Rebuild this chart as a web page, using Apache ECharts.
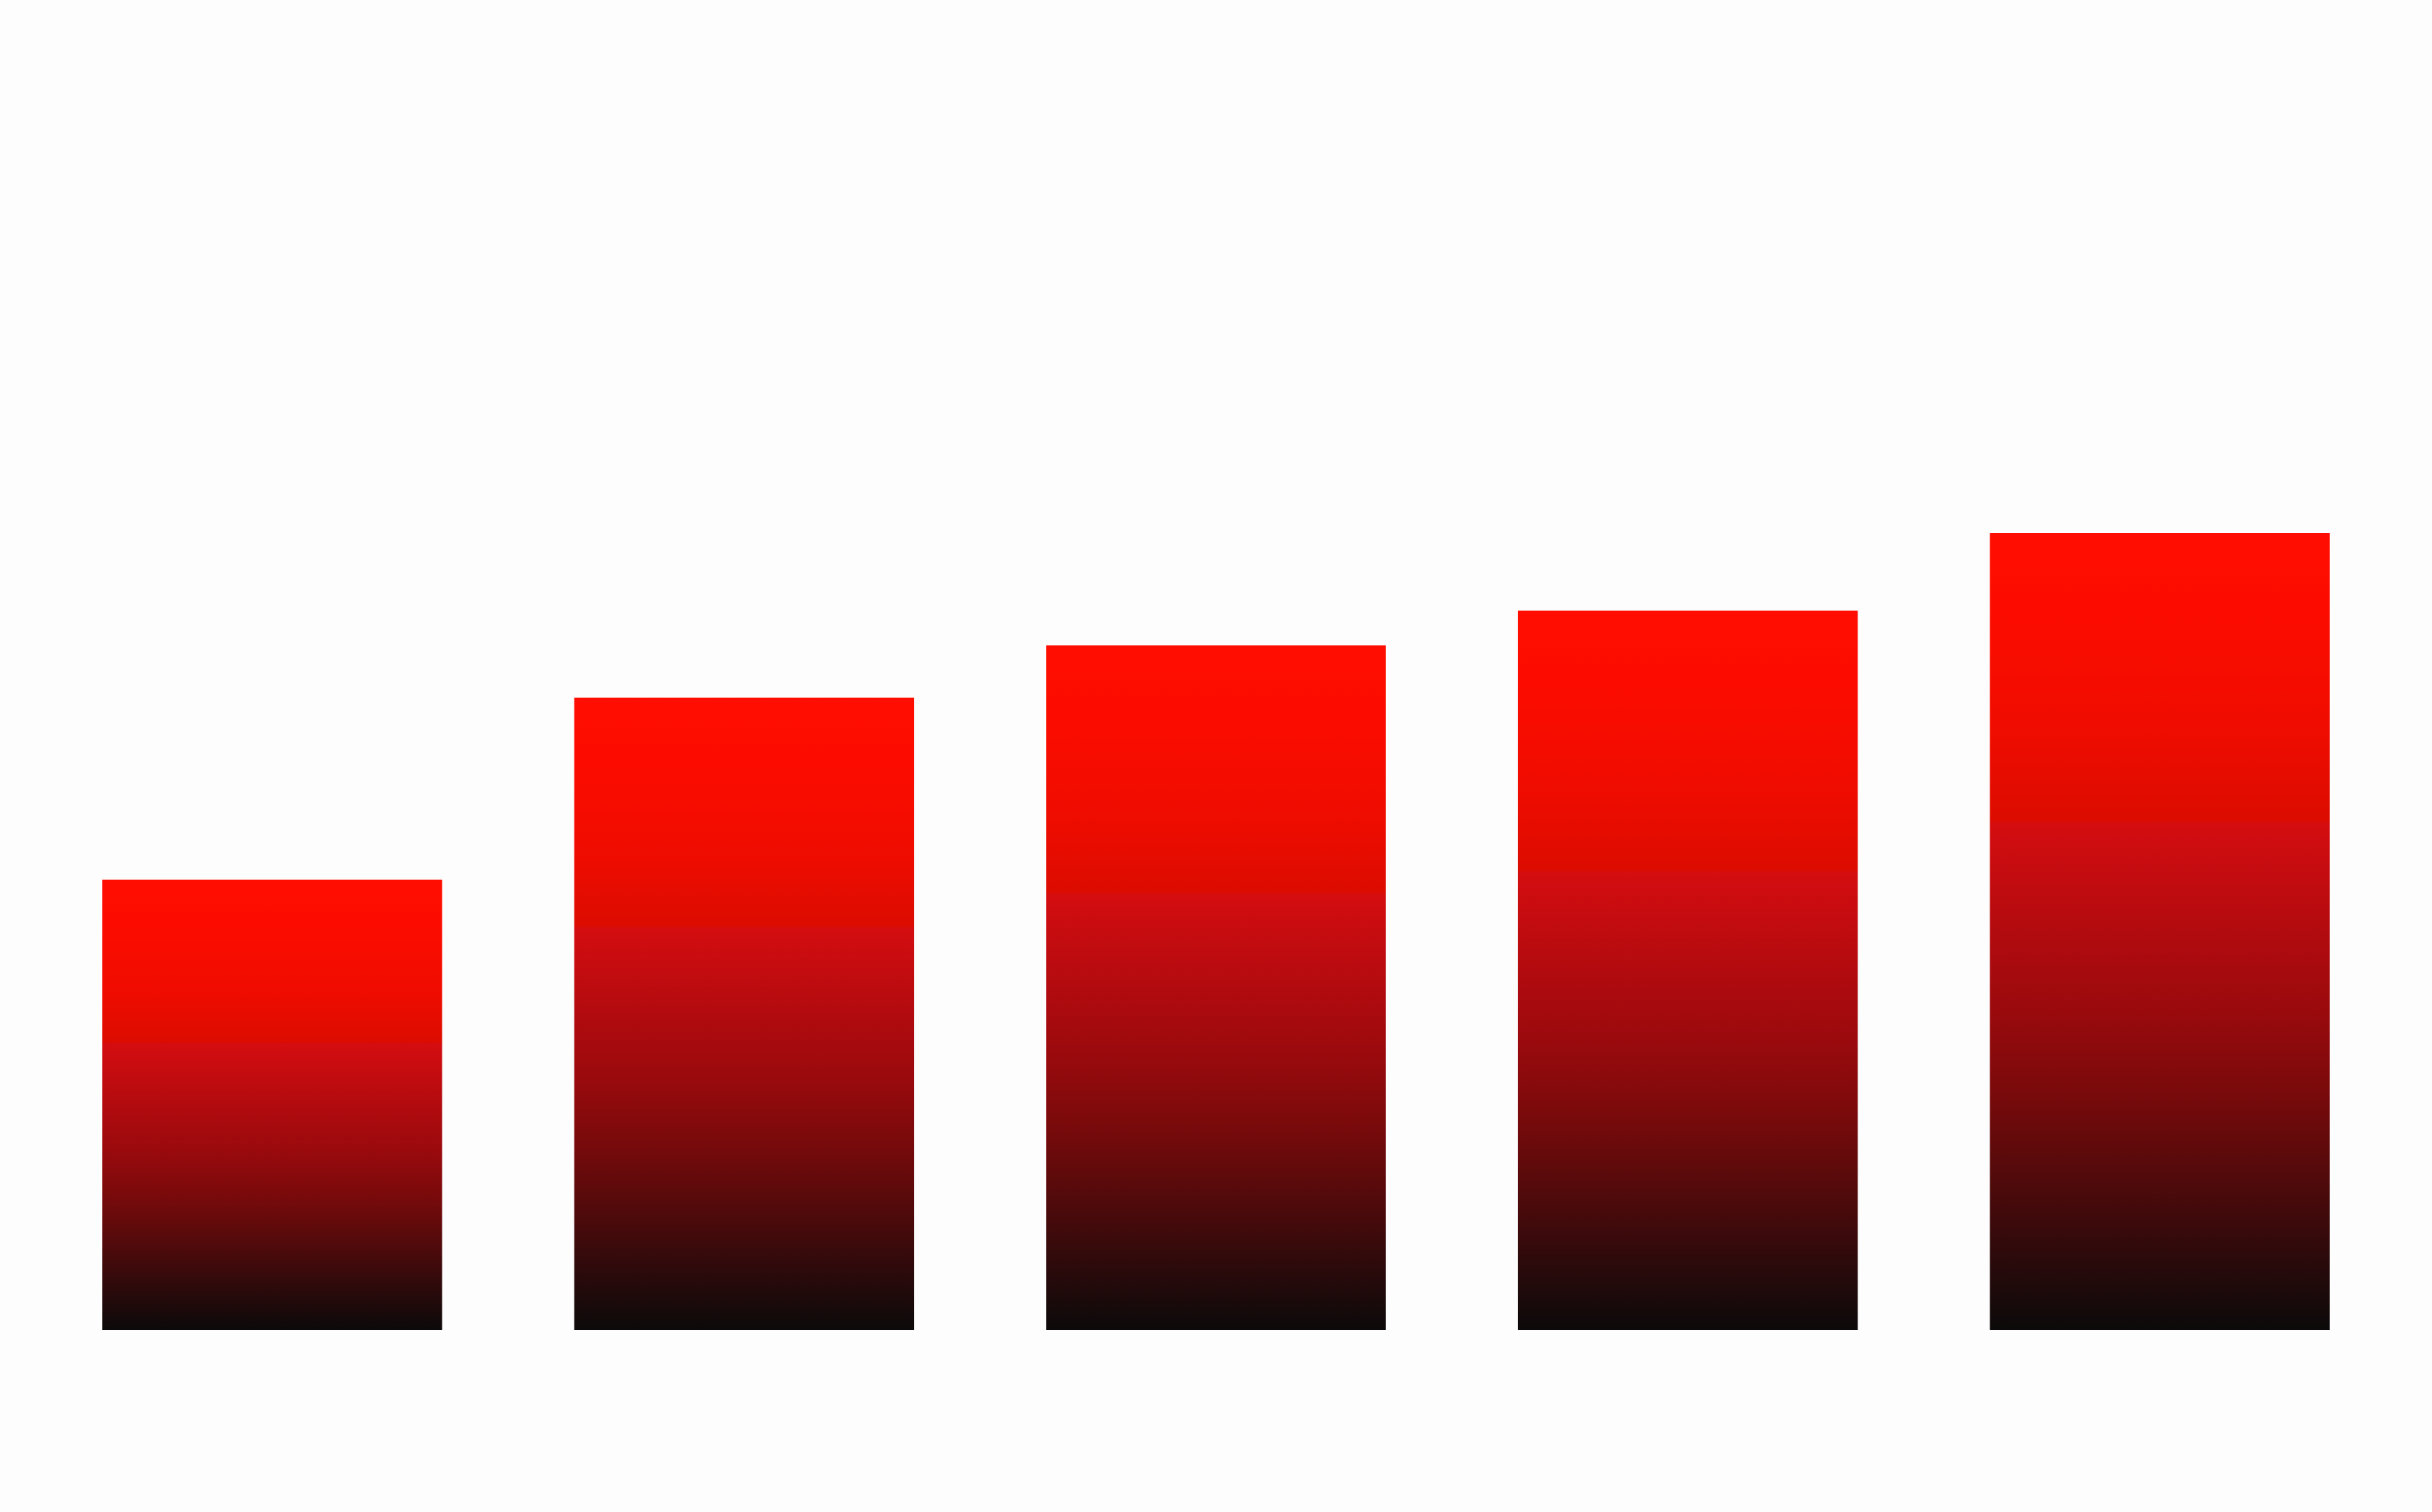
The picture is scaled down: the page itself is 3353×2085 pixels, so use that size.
<!DOCTYPE html>
<html>
<head>
<meta charset="utf-8">
<script src="https://cdn.jsdelivr.net/npm/echarts@6/dist/echarts.min.js"></script>
<style>
html,body{margin:0;padding:0;background:#fdfdfd;}
#main{width:3353px;height:2085px;}
</style>
</head>
<body>
<div id="main"></div>
<script>
const categories = ['A', 'B', 'C', 'D', 'E'];
const values = [62.1, 87.2, 94.4, 99.2, 109.9];
const yMax = 180;

const chart = echarts.init(document.getElementById('main'), null, {renderer: 'canvas'});
chart.setOption({
  backgroundColor: '#fdfdfd',
  animation: false,
  grid: {left: 50, right: 50, top: 34, bottom: 251, containLabel: false},
  xAxis: {type: 'category', data: categories, show: false},
  yAxis: {type: 'value', min: 0, max: yMax, show: false, splitLine: {show: false}},
  series: [{
    type: 'bar',
    data: values,
    barCategoryGap: '28%',
    itemStyle: {
      color: new echarts.graphic.LinearGradient(0, 0, 0, 1, [
        {offset: 0, color: '#ff0d00'},
        {offset: 0.12, color: '#fb0c00'},
        {offset: 0.25, color: '#ef0c00'},
        {offset: 0.36, color: '#dc0c00'},
        {offset: 0.365, color: '#d40d10'},
        {offset: 0.5, color: '#b20b0f'},
        {offset: 0.6, color: '#9a0a0d'},
        {offset: 0.7, color: '#7a0a0b'},
        {offset: 0.8, color: '#550a0b'},
        {offset: 0.9, color: '#2f0a0b'},
        {offset: 1, color: '#0c0a0a'}
      ])
    }
  }]
});
</script>
</body>
</html>
